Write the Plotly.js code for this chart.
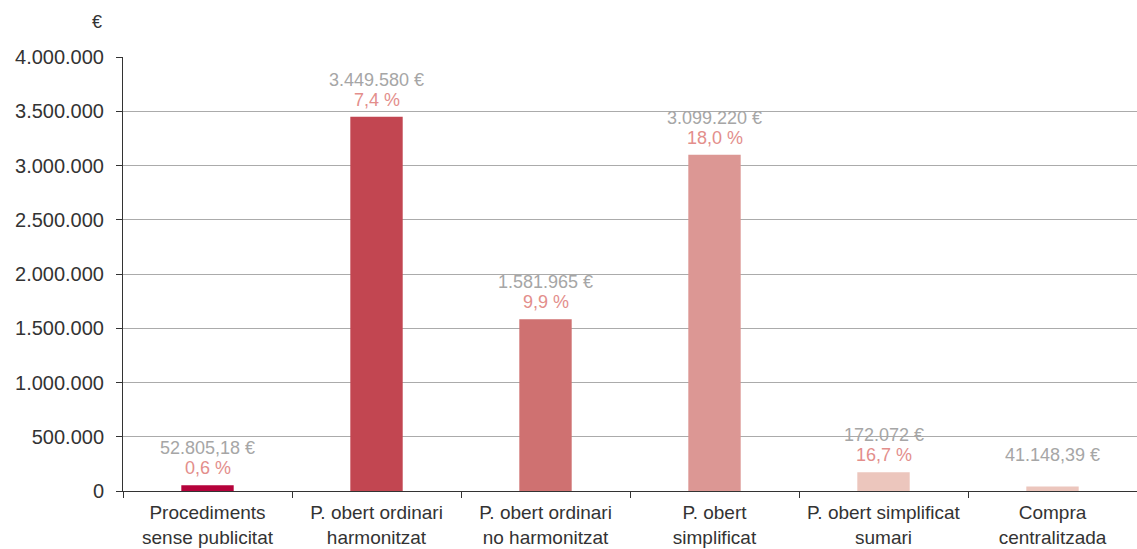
<!DOCTYPE html>
<html>
<head>
<meta charset="utf-8">
<script src="https://cdn.plot.ly/plotly-3.0.1.min.js"></script>
<style>html,body{margin:0;padding:0;background:#fff;}#chart{width:1137px;height:549px;}</style>
</head>
<body>
<div id="chart"></div>
<script>
const categories = [
  "Procediments<br>sense publicitat",
  "P. obert ordinari<br>harmonitzat",
  "P. obert ordinari<br>no harmonitzat",
  "P. obert<br>simplificat",
  "P. obert simplificat<br>sumari",
  "Compra<br>centralitzada"
];
const values = [52805.18, 3449580, 1581965, 3099220, 172072, 41148.39];
const valueLabels = ["52.805,18 €", "3.449.580 €", "1.581.965 €", "3.099.220 €", "172.072 €", "41.148,39 €"];
const percentLabels = ["0,6 %", "7,4 %", "9,9 %", "18,0 %", "16,7 %", ""];
const yTickVals = [0, 500000, 1000000, 1500000, 2000000, 2500000, 3000000, 3500000, 4000000];

const barColors = ["#b5023b", "#c24651", "#cf7171", "#dc9794", "#ecc6bd", "#ecc6bd"];
const FONT = "Liberation Sans, Arial, sans-serif";

const trace = {
  type: "bar",
  x: categories,
  y: values,
  width: 0.31,
  marker: {color: barColors},
  hoverinfo: "none"
};

const annotations = [];
categories.forEach((c, i) => {
  const hasPct = percentLabels[i] !== "";
  annotations.push({
    x: c, y: values[i], xref: "x", yref: "y",
    text: valueLabels[i], showarrow: false,
    yanchor: "middle", yshift: hasPct ? 37 : 32,
    font: {family: FONT, size: 18, color: "#a6a6a6"}
  });
  if (hasPct) {
    annotations.push({
      x: c, y: values[i], xref: "x", yref: "y",
      text: percentLabels[i], showarrow: false,
      yanchor: "middle", yshift: 17,
      font: {family: FONT, size: 18, color: "#e38e8b"}
    });
  }
});
annotations.push({
  xref: "paper", yref: "paper", x: -0.019, y: 1.08,
  xanchor: "right", yanchor: "middle",
  text: "€", showarrow: false,
  font: {family: FONT, size: 18, color: "#333"}
});

const layout = {
  width: 1137, height: 549,
  margin: {l: 123, r: 0, t: 57, b: 58},
  paper_bgcolor: "#fff", plot_bgcolor: "#fff",
  separators: ",.",
  showlegend: false,
  font: {family: FONT, color: "#333"},
  xaxis: {
    type: "category",
    tickson: "boundaries",
    tickangle: 0,
    ticks: "outside", ticklen: 6, tickcolor: "#333", tickwidth: 1,
    ticklabelstandoff: 4,
    showline: true, linecolor: "#333", linewidth: 1,
    showgrid: false,
    tickfont: {family: FONT, size: 19, color: "#333"},
    fixedrange: true
  },
  yaxis: {
    range: [0, 4000000],
    tickvals: yTickVals,
    tickformat: ",.0f",
    ticks: "outside", ticklen: 6, tickcolor: "#333", tickwidth: 1,
    ticklabelstandoff: 8,
    showline: true, linecolor: "#333", linewidth: 1,
    showgrid: true, gridcolor: "#ababab", gridwidth: 1,
    zeroline: false,
    tickfont: {family: FONT, size: 20, color: "#333"},
    fixedrange: true
  },
  annotations: annotations
};

Plotly.newPlot("chart", [trace], layout, {displayModeBar: false, staticPlot: true});
</script>
</body>
</html>
